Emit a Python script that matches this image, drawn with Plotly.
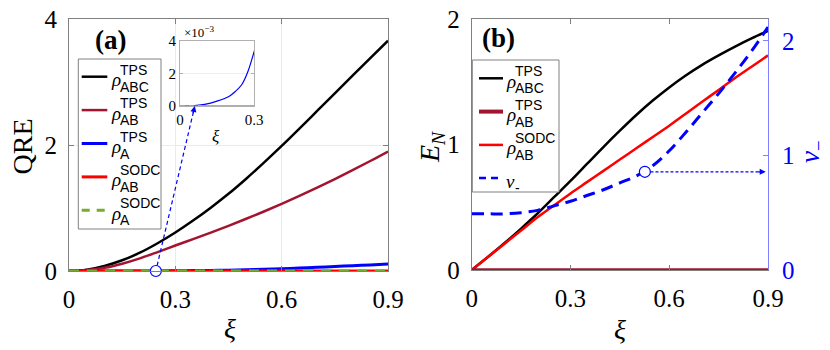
import plotly.graph_objects as go

# ---------------- data ----------------
xi = [0.0, 0.05, 0.1, 0.15, 0.2, 0.25, 0.3, 0.35, 0.4, 0.45, 0.5,
      0.55, 0.6, 0.65, 0.7, 0.75, 0.8, 0.85, 0.9]

# panel (a): QRE
qre_abc_tps = [0.0, 0.02, 0.08, 0.17, 0.29, 0.44, 0.61, 0.80, 1.005, 1.225, 1.465,
               1.72, 1.985, 2.26, 2.54, 2.82, 3.10, 3.38, 3.655]
qre_ab_tps = [0.0, 0.015, 0.05, 0.115, 0.2, 0.3, 0.405, 0.505, 0.609, 0.717, 0.829,
              0.945, 1.066, 1.192, 1.323, 1.459, 1.60, 1.746, 1.897]
xi_a = [0.0, 0.05, 0.1, 0.15, 0.2, 0.225, 0.25, 0.275, 0.3, 0.35, 0.4, 0.45,
        0.5, 0.55, 0.6, 0.65, 0.7, 0.75, 0.8, 0.85, 0.9]
qre_a_tps = [0.0, 0.00001, 0.0001, 0.0003, 0.0006, 0.0009, 0.0013, 0.0021,
             0.0033, 0.006, 0.009, 0.013, 0.019, 0.026, 0.035, 0.046, 0.058,
             0.071, 0.084, 0.097, 0.11]
qre_ab_sodc = [0.0, 0.0, 0.0, 0.0, 0.0, 0.0, 0.0, 0.0, 0.0, 0.0, 0.0,
               0.0, 0.0, 0.0, 0.0, 0.0, 0.0, 0.0, 0.0]
qre_a_sodc = [0.0, 0.0, 0.0, 0.0, 0.0, 0.0, 0.0, 0.0, 0.0, 0.0, 0.0,
              0.0, 0.0, 0.0, 0.0, 0.0, 0.0, 0.0, 0.0]

# panel (b): logarithmic negativity and symplectic eigenvalue
en_abc_tps = [0.0, 0.105, 0.215, 0.33, 0.45, 0.58, 0.71, 0.845, 0.98, 1.11, 1.235,
              1.35, 1.455, 1.55, 1.635, 1.71, 1.78, 1.845, 1.905]
en_ab_tps = [0.0, 0.0, 0.0, 0.0, 0.0, 0.0, 0.0, 0.0, 0.0, 0.0, 0.0,
             0.0, 0.0, 0.0, 0.0, 0.0, 0.0, 0.0, 0.0]
en_ab_sodc = [0.0, 0.105, 0.21, 0.315, 0.42, 0.515, 0.61, 0.70, 0.79, 0.88, 0.97,
              1.06, 1.15, 1.245, 1.34, 1.435, 1.53, 1.62, 1.71]
nu_minus = [0.49, 0.49, 0.49, 0.50, 0.52, 0.56, 0.60, 0.65, 0.70, 0.76, 0.82,
            0.91, 1.04, 1.20, 1.37, 1.54, 1.72, 1.91, 2.12]

callout_a = (0.245, 0.0)     # point in (a) linked to the inset
inset_target = (0.06, 0.0)   # where the arrow lands in the inset
callout_b = (0.526, 0.857)   # point on nu_- linked to the right axis

x_ticks = [0, 0.3, 0.6, 0.9]
x_ticktext = ["0", "0.3", "0.6", "0.9"]

# ---------------- layout geometry (pixels) ----------------
W, H = 830, 350
AX = {
    "a":  dict(x=(69, 388), y=(271, 19), xr=(0, 0.9), yr=(0, 4)),
    "b":  dict(x=(471.7, 768), y=(270, 19), xr=(0, 0.9), yr=(0, 2)),
    "b3": dict(x=(471.7, 768), y=(270, 19), xr=(0, 0.9), yr=(0, 2.19)),
    "in": dict(x=(180, 254), y=(106, 40.7), xr=(0, 0.3), yr=(0, 0.004)),
}


def to_px(x, y, k):
    a = AX[k]
    X = a["x"][0] + (x - a["xr"][0]) / (a["xr"][1] - a["xr"][0]) * (a["x"][1] - a["x"][0])
    Y = a["y"][0] + (y - a["yr"][0]) / (a["yr"][1] - a["yr"][0]) * (a["y"][1] - a["y"][0])
    return X, Y


def pp(X, Y):
    return X / W, 1 - Y / H


def xdom(k):
    return [AX[k]["x"][0] / W, AX[k]["x"][1] / W]


def ydom(k):
    return [1 - AX[k]["y"][0] / H, 1 - AX[k]["y"][1] / H]


BLACK = "#000000"
MAROON = "#A2142F"
BLUE = "#0000FF"
RED = "#FF0000"
GREEN = "#77AC30"
AXC = "#808080"
SERIF = "Liberation Serif"
SANS = "Liberation Sans"

fig = go.Figure()

# ---------- panel (a) ----------
fig.add_trace(go.Scatter(x=xi, y=qre_abc_tps, mode="lines", line=dict(color=BLACK, width=2.5),
                         xaxis="x", yaxis="y", cliponaxis=False, line_shape="spline"))
fig.add_trace(go.Scatter(x=xi, y=qre_ab_tps, mode="lines", line=dict(color=MAROON, width=2.5),
                         xaxis="x", yaxis="y", cliponaxis=False, line_shape="spline"))
fig.add_trace(go.Scatter(x=xi_a, y=qre_a_tps, mode="lines", line=dict(color=BLUE, width=3),
                         xaxis="x", yaxis="y", cliponaxis=False, line_shape="spline"))
fig.add_trace(go.Scatter(x=xi, y=qre_ab_sodc, mode="lines", line=dict(color=RED, width=3),
                         xaxis="x", yaxis="y", cliponaxis=False))
fig.add_trace(go.Scatter(x=xi, y=qre_a_sodc, mode="lines",
                         line=dict(color=GREEN, width=3, dash="10px,8px"),
                         xaxis="x", yaxis="y", cliponaxis=False))
fig.add_trace(go.Scatter(x=[callout_a[0]], y=[callout_a[1]], mode="markers",
                         marker=dict(size=11, color="white", line=dict(color=BLUE, width=1.2)),
                         xaxis="x", yaxis="y", cliponaxis=False))

# ---------- inset ----------
n_in = 7  # points up to xi = 0.3
fig.add_trace(go.Scatter(x=xi_a, y=qre_a_tps, mode="lines", line=dict(color=BLUE, width=1.2),
                         xaxis="x3", yaxis="y4", line_shape="spline"))
fig.add_trace(go.Scatter(x=xi[:n_in], y=qre_ab_sodc[:n_in], mode="lines",
                         line=dict(color="#FF6060", width=1.5),
                         xaxis="x3", yaxis="y4", cliponaxis=False))
fig.add_trace(go.Scatter(x=xi[:n_in], y=qre_a_sodc[:n_in], mode="lines",
                         line=dict(color="#9CC96B", width=1.5, dash="5px,4px"),
                         xaxis="x3", yaxis="y4", cliponaxis=False))

# ---------- panel (b) ----------
fig.add_trace(go.Scatter(x=xi, y=en_abc_tps, mode="lines", line=dict(color=BLACK, width=2.5),
                         xaxis="x2", yaxis="y2", cliponaxis=False, line_shape="spline"))
fig.add_trace(go.Scatter(x=xi, y=en_ab_sodc, mode="lines", line=dict(color=RED, width=2.5),
                         xaxis="x2", yaxis="y2", cliponaxis=False, line_shape="spline"))
fig.add_trace(go.Scatter(x=xi, y=en_ab_tps, mode="lines", line=dict(color=MAROON, width=3.5),
                         xaxis="x2", yaxis="y2", cliponaxis=False))
fig.add_trace(go.Scatter(x=xi, y=nu_minus, mode="lines",
                         line=dict(color=BLUE, width=3, dash="12px,7px"),
                         xaxis="x2", yaxis="y3", cliponaxis=False, line_shape="spline"))
fig.add_trace(go.Scatter(x=[callout_b[0]], y=[callout_b[1]], mode="markers",
                         marker=dict(size=11, color="white", line=dict(color=BLUE, width=1.2)),
                         xaxis="x2", yaxis="y3", cliponaxis=False))

shapes = []
annotations = []

# arrow from (a) point to inset
X0, Y0 = to_px(*callout_a, "a")
X1, Y1 = to_px(*inset_target, "in")
dx, dy = X1 - X0, Y1 - Y0
L = (dx ** 2 + dy ** 2) ** 0.5
ux, uy = dx / L, dy / L
sx, sy = pp(X0 + ux * 5.5, Y0 + uy * 5.5)
ex, ey = pp(X1 - ux * 4, Y1 - uy * 4)
shapes.append(dict(type="line", xref="paper", yref="paper", x0=sx, y0=sy, x1=ex, y1=ey,
                   line=dict(color=BLUE, width=1.2, dash="4px,3px")))
annotations.append(dict(xref="x3", yref="y4", x=inset_target[0], y=inset_target[1],
                        ax=-ux * 9, ay=-uy * 9, text="", showarrow=True, arrowhead=2,
                        arrowsize=1, arrowwidth=1.2, arrowcolor=BLUE))

# dotted arrow in (b)
shapes.append(dict(type="line", xref="x2", yref="y3", x0=callout_b[0] + 0.017, y0=callout_b[1],
                   x1=0.89, y1=callout_b[1], line=dict(color=BLUE, width=1.2, dash="3px,2px")))
annotations.append(dict(xref="x2", yref="y3", x=0.893, y=callout_b[1], ax=-9, ay=0, text="",
                        showarrow=True, arrowhead=2, arrowsize=1, arrowwidth=1.2, arrowcolor=BLUE))


# ---------- manual legends ----------
def legend(box, rows, x_line, x_rho, x_txt, y0, step):
    bx0, by0 = pp(box[0], box[1])
    bx1, by1 = pp(box[2], box[3])
    shapes.append(dict(type="rect", xref="paper", yref="paper", x0=bx0, y0=by1, x1=bx1, y1=by0,
                       line=dict(color=AXC, width=1), fillcolor="white", layer="above"))
    for i, r in enumerate(rows):
        yl = r.get("y", y0 + i * step)
        lx0, ly = pp(x_line[0], yl)
        lx1, _ = pp(x_line[1], yl)
        shapes.append(dict(type="line", xref="paper", yref="paper", x0=lx0, y0=ly, x1=lx1, y1=ly,
                           layer="above",
                           line=dict(color=r["color"], width=r["width"], dash=r.get("dash", "solid"))))
        rx, ry = pp(x_rho, yl + 3)
        annotations.append(dict(xref="paper", yref="paper", x=rx, y=ry, xanchor="left",
                                yanchor="middle", text="<i>%s</i>" % r.get("sym", "ρ"),
                                showarrow=False, font=dict(family=SERIF, size=19, color="black")))
        if r.get("sup"):
            tx, ty = pp(x_txt, yl - 7)
            annotations.append(dict(xref="paper", yref="paper", x=tx, y=ty, xanchor="left",
                                    yanchor="middle", text=r["sup"], showarrow=False,
                                    font=dict(family=SANS, size=14, color="black")))
        tx, ty = pp(x_txt, yl + 10)
        annotations.append(dict(xref="paper", yref="paper", x=tx, y=ty, xanchor="left",
                                yanchor="middle", text=r["sub"], showarrow=False,
                                font=dict(family=SANS, size=14, color="black")))


legend((78.3, 59, 161, 229), [
    dict(color=BLACK, width=2.5, sup="TPS", sub="ABC"),
    dict(color=MAROON, width=2.5, sup="TPS", sub="AB"),
    dict(color=BLUE, width=3, sup="TPS", sub="A"),
    dict(color=RED, width=3, sup="SODC", sub="AB"),
    dict(color=GREEN, width=3, dash="8px,7px", sup="SODC", sub="A"),
], (81.7, 107.3), 108.5, 118, 76.7, 33.4)

legend((472.3, 60, 559, 192), [
    dict(color=BLACK, width=2.5, sup="TPS", sub="ABC"),
    dict(color=MAROON, width=4, sup="TPS", sub="AB"),
    dict(color=RED, width=2.5, sup="SODC", sub="AB"),
    dict(color=BLUE, width=2.5, dash="7px,5px", sym="ν", sup=None, sub="-", y=178),
], (479, 503), 503.5, 513, 78.3, 33.3)


# ---------- axis titles and labels ----------
def label(X, Y, text, size, color="black", angle=0, family=SERIF):
    x, y = pp(X, Y)
    annotations.append(dict(xref="paper", yref="paper", x=x, y=y, xanchor="center", yanchor="middle",
                            text=text, showarrow=False, textangle=angle,
                            font=dict(family=family, size=size, color=color)))


label(22.5, 147, "QRE", 28, angle=-90)
label(230, 328, "<i>ξ</i>", 28)
label(620, 329, "<i>ξ</i>", 28)
label(432, 147, "<i>E</i><sub><i>N</i></sub>", 28, angle=-90)
label(812, 152, "<i>ν</i><sub>−</sub>", 27, color=BLUE, angle=-90)
label(110, 40, "<b>(a)</b>", 27)
label(498, 38, "<b>(b)</b>", 27)
label(199, 32, "×10<sup>−3</sup>", 13)
label(216, 136, "<i>ξ</i>", 17)

common = dict(showline=True, linecolor=AXC, linewidth=1, ticks="inside", ticklen=5,
              tickcolor=AXC, zeroline=False, fixedrange=True, automargin=False)
tickfont = dict(family=SERIF, size=25, color="black")

fig.update_layout(
    template="none",
    width=W, height=H, margin=dict(l=0, r=0, t=0, b=0, pad=0),
    paper_bgcolor="white", plot_bgcolor="rgba(0,0,0,0)", showlegend=False,
    xaxis=dict(domain=xdom("a"), range=list(AX["a"]["xr"]), anchor="y", mirror="ticks",
               tickvals=x_ticks, ticktext=x_ticktext, tickfont=tickfont, showgrid=True,
               gridcolor="#ebebeb", ticklabelstandoff=6, **common),
    yaxis=dict(domain=ydom("a"), range=list(AX["a"]["yr"]), anchor="x", mirror="ticks",
               tickvals=[0, 2, 4], tickfont=tickfont, showgrid=True, gridcolor="#ebebeb",
               ticklabelstandoff=6, **common),
    xaxis2=dict(domain=xdom("b"), range=list(AX["b"]["xr"]), anchor="y2", mirror="ticks",
                tickvals=x_ticks, ticktext=x_ticktext, tickfont=tickfont, showgrid=False,
                ticklabelstandoff=6, **common),
    yaxis2=dict(domain=ydom("b"), range=list(AX["b"]["yr"]), anchor="x2", mirror=False,
                tickvals=[0, 1, 2], tickfont=tickfont, showgrid=False, ticklabelstandoff=6,
                **common),
    yaxis3=dict(overlaying="y2", side="right", anchor="x2", range=list(AX["b3"]["yr"]),
                tickvals=[0, 1, 2], showline=True, linecolor="#7f7fff", linewidth=1,
                ticks="inside", ticklen=5, tickcolor="#7f7fff", zeroline=False, showgrid=False,
                tickfont=dict(family=SERIF, size=25, color=BLUE), ticklabelstandoff=8,
                fixedrange=True, automargin=False),
    xaxis3=dict(domain=xdom("in"), range=list(AX["in"]["xr"]), anchor="y4", mirror="ticks",
                tickvals=[0, 0.3], ticktext=["0", "0.3"],
                tickfont=dict(family=SERIF, size=15, color="black"), showgrid=False,
                showline=True, linecolor="#b0b0b0", ticks="inside", ticklen=3,
                tickcolor="#b0b0b0", zeroline=False, fixedrange=True, automargin=False),
    yaxis4=dict(domain=ydom("in"), range=list(AX["in"]["yr"]), anchor="x3", mirror="ticks",
                tickvals=[0, 0.002, 0.004], ticktext=["0", "2", "4"],
                tickfont=dict(family=SERIF, size=15, color="black"), showgrid=True,
                gridcolor="#eeeeee", showline=True, linecolor="#b0b0b0", ticks="inside",
                ticklen=3, tickcolor="#b0b0b0", zeroline=False, fixedrange=True,
                automargin=False),
    shapes=shapes, annotations=annotations,
)

# white background for the inset so main-panel grid lines do not show through
fig.add_shape(type="rect", xref="x3 domain", yref="y4 domain", x0=0, y0=0, x1=1, y1=1,
              fillcolor="white", line=dict(width=0), layer="below")

fig.write_html("out.html", config={"displayModeBar": False},
               post_script="document.body.style.margin='0';document.body.style.overflow='hidden';")
